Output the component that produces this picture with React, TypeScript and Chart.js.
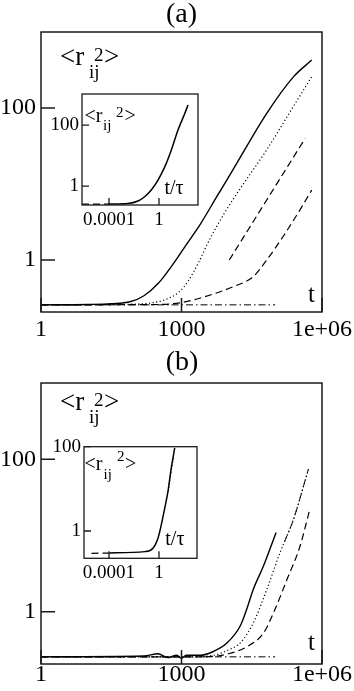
import React, { useEffect, useRef } from 'react';
import { Chart, registerables } from 'chart.js';
Chart.register(...registerables);

const FONT = '"Liberation Serif", "Times New Roman", serif';

// ---- tick values and labels ----
const mainXTicks = [1, 1000, 1000000];
const mainXLabels = ['1', '1000', '1e+06'];
const mainYTicks = [1, 100];
const mainYLabels = ['1', '100'];
const insetXTicks = [0.0001, 1];
const insetXLabels = ['0.0001', '1'];
const insetYTicks = [1, 100];
const insetYLabels = ['1', '100'];

// ---- panel (a) main ----
const aSolidT = [1, 10, 31.6, 79.4, 158, 316, 631, 1259, 2512, 5623, 12882, 66069, 245471, 602560];
const aSolidR = [0.257, 0.26, 0.266, 0.282, 0.339, 0.49, 0.851, 1.585, 2.95, 6.76, 15.8, 85.1, 257, 427];
const aDotT = [1, 100, 251, 501, 891, 1413, 2239, 3981, 7943, 15849, 66069, 245471, 602560];
const aDotR = [0.257, 0.263, 0.275, 0.309, 0.38, 0.537, 0.891, 1.86, 3.98, 7.76, 28.2, 105, 257];
const aDashUpT = [10471, 436516];
const aDashUpR = [1.0, 39.8];
const aDashLowT = [1, 316, 1000, 2512, 12882, 33884, 66069, 147911, 338844, 602560];
const aDashLowR = [0.257, 0.26, 0.275, 0.316, 0.447, 0.603, 1.0, 2.04, 4.57, 8.32];
const aDashDotT = [1, 100000];
const aDashDotR = [0.257, 0.257];

// ---- panel (a) inset ----
const iaDashT = [6.9e-7, 0.0001];
const iaDashR = [0.257, 0.257];
const iaSolidT = [0.000083, 0.0033, 0.0209, 0.0708, 0.24, 0.83, 2.88, 9.55, 33.1, 115, 209];
const iaSolidR = [0.257, 0.269, 0.324, 0.447, 0.741, 1.58, 4.27, 15.1, 69.2, 240, 457];

// ---- panel (b) main ----
const bSolidT = [1, 158, 316, 501, 794, 1000, 1259, 2512, 4786, 9333, 17783, 24547, 33884, 56234, 104713];
const bSolidR = [0.257, 0.263, 0.282, 0.251, 0.269, 0.245, 0.269, 0.269, 0.302, 0.389, 0.646, 1.07, 1.95, 3.98, 11.0];
const bDotT = [1, 1585, 4786, 10000, 17783, 33884, 66069, 125893, 245471, 512861];
const bDotR = [0.257, 0.257, 0.269, 0.316, 0.389, 0.708, 1.95, 5.89, 16.2, 74.1];
const bDashT = [1, 3162, 10000, 24547, 56234, 91201, 177828, 338844, 537032];
const bDashR = [0.257, 0.257, 0.282, 0.347, 0.525, 0.955, 2.63, 7.24, 20.9];
const bDashDotT = [1, 100000];
const bDashDotR = [0.257, 0.257];
const bDashDotUpT = [158489, 245471, 512861];
const bDashDotUpR = [8.32, 16.2, 74.1];

// ---- panel (b) inset ----
const ibDashT = [0.000004, 0.0001];
const ibDashR = [0.295, 0.3];
const ibSolidT = [0.0001, 0.0724, 0.331, 0.832, 1.51, 2.88, 5.25, 9.55, 18.2];
const ibSolidR = [0.302, 0.324, 0.389, 0.676, 1.38, 3.47, 8.71, 30.9, 93.3];
const ibDotT = [5.6, 10.5, 15.8];
const ibDotR = [8.7, 30.9, 60];

const SOLID: number[] = [];
const DOT = [1.2, 2.4];
const DASH = [7, 4];
const DASHDOT = [7, 3, 1.5, 3];

function ds(t: number[], r: number[], dash: number[], width: number) {
  return {
    data: t.map((x, i) => ({ x, y: r[i] })),
    borderColor: '#000',
    borderWidth: width,
    borderDash: dash,
    pointRadius: 0,
    fill: false,
    cubicInterpolationMode: 'monotone',
    borderCapStyle: 'butt',
  };
}

function framePlugin(tickLen: number, lw: number, white: boolean) {
  return {
    id: 'frame',
    beforeDraw(chart: any) {
      if (!white) return;
      const { ctx, chartArea: a } = chart;
      ctx.save();
      ctx.fillStyle = '#fff';
      ctx.fillRect(a.left, a.top, a.right - a.left, a.bottom - a.top);
      ctx.restore();
    },
    afterDraw(chart: any) {
      const { ctx, chartArea: a, scales } = chart;
      ctx.save();
      ctx.strokeStyle = '#1a1a1a';
      ctx.lineWidth = lw;
      ctx.strokeRect(a.left, a.top, a.right - a.left, a.bottom - a.top);
      ctx.beginPath();
      scales.x.ticks.forEach((t: any) => {
        const px = scales.x.getPixelForValue(t.value);
        ctx.moveTo(px, a.bottom);
        ctx.lineTo(px, a.bottom - tickLen);
      });
      scales.y.ticks.forEach((t: any) => {
        const py = scales.y.getPixelForValue(t.value);
        ctx.moveTo(a.left, py);
        ctx.lineTo(a.left + tickLen, py);
      });
      ctx.stroke();
      ctx.restore();
    },
  };
}

interface Cfg {
  datasets: any[];
  xMin: number; xMax: number; yMin: number; yMax: number;
  xTicks: number[]; xLabels: string[]; yTicks: number[]; yLabels: string[];
  padding: { left: number; right: number; top: number; bottom: number };
  yWidth: number; xHeight: number;
  fontSize: number; xPad: number; yPad: number;
  tickLen: number; frameW: number; white: boolean;
}

function buildConfig(c: Cfg): any {
  const font = { family: FONT, size: c.fontSize, lineHeight: 1 };
  return {
    type: 'line',
    data: { datasets: c.datasets },
    options: {
      responsive: false,
      animation: false,
      events: [],
      layout: { autoPadding: false, padding: c.padding },
      plugins: { legend: { display: false }, tooltip: { enabled: false }, title: { display: false } },
      scales: {
        x: {
          type: 'logarithmic', position: 'bottom', min: c.xMin, max: c.xMax,
          grid: { display: false, drawTicks: false }, border: { display: false },
          afterBuildTicks: (s: any) => { s.ticks = c.xTicks.map((v) => ({ value: v })); },
          afterFit: (s: any) => { s.height = c.xHeight; s.paddingLeft = 0; s.paddingRight = 0; },
          ticks: {
            autoSkip: false, maxRotation: 0, minRotation: 0, padding: c.xPad, color: '#000', font,
            callback: (v: any) => { const i = c.xTicks.indexOf(Number(v)); return i >= 0 ? c.xLabels[i] : ''; },
          },
        },
        y: {
          type: 'logarithmic', position: 'left', min: c.yMin, max: c.yMax,
          grid: { display: false, drawTicks: false }, border: { display: false },
          afterBuildTicks: (s: any) => { s.ticks = c.yTicks.map((v) => ({ value: v })); },
          afterFit: (s: any) => { s.width = c.yWidth; s.paddingTop = 0; s.paddingBottom = 0; },
          ticks: {
            autoSkip: false, padding: c.yPad, color: '#000', font,
            callback: (v: any) => { const i = c.yTicks.indexOf(Number(v)); return i >= 0 ? c.yLabels[i] : ''; },
          },
        },
      },
    },
    plugins: [framePlugin(c.tickLen, c.frameW, c.white)],
  };
}

function ChartCanvas(props: { left: number; top: number; width: number; height: number; cfg: () => Cfg }) {
  const ref = useRef<HTMLCanvasElement | null>(null);
  useEffect(() => {
    const chart = new Chart(ref.current as HTMLCanvasElement, buildConfig(props.cfg()));
    return () => chart.destroy();
  }, []);
  return (
    <canvas
      ref={ref}
      width={props.width}
      height={props.height}
      style={{ position: 'absolute', left: props.left, top: props.top, width: props.width, height: props.height }}
    />
  );
}

function T(props: { x: number; y: number; size: number; center?: boolean; children: React.ReactNode }) {
  return (
    <div
      style={{
        position: 'absolute', left: props.x, top: props.y - 0.3375 * props.size,
        fontFamily: FONT, fontSize: props.size, lineHeight: 0, whiteSpace: 'nowrap', color: '#000',
        transform: props.center ? 'translateX(-50%)' : undefined,
      }}
    >
      {props.children}
    </div>
  );
}

function RLabel(props: {
  x: number; y: number; big: number; small: number;
  ijDx: number; ijDy: number; twoDx: number; twoDy: number; gtDx: number;
}) {
  const { x, y, big, small } = props;
  return (
    <>
      <T x={x} y={y} size={big}>{'<r'}</T>
      <T x={x + props.ijDx} y={y + props.ijDy} size={small}>ij</T>
      <T x={x + props.twoDx} y={y + props.twoDy} size={small}>2</T>
      <T x={x + props.gtDx} y={y} size={big}>{'>'}</T>
    </>
  );
}

const mainA = (): Cfg => ({
  datasets: [
    ds(aDashDotT, aDashDotR, DASHDOT, 1),
    ds(aDashLowT, aDashLowR, DASH, 1.2),
    ds(aDashUpT, aDashUpR, DASH, 1.2),
    ds(aDotT, aDotR, DOT, 1.2),
    ds(aSolidT, aSolidR, SOLID, 1.4),
  ],
  xMin: 1, xMax: 1000000, yMin: 0.207, yMax: 1000,
  xTicks: mainXTicks, xLabels: mainXLabels, yTicks: mainYTicks, yLabels: mainYLabels,
  padding: { left: 0, right: 32, top: 32, bottom: 0 },
  yWidth: 41, xHeight: 33, fontSize: 24, xPad: 6, yPad: 5, tickLen: 14, frameW: 1.5, white: false,
});

const mainB = (): Cfg => ({
  datasets: [
    ds(bDashDotT, bDashDotR, DASHDOT, 1),
    ds(bDashT, bDashR, DASH, 1.2),
    ds(bDotT, bDotR, DOT, 1.2),
    ds(bDashDotUpT, bDashDotUpR, DASHDOT, 1),
    ds(bSolidT, bSolidR, SOLID, 1.4),
  ],
  xMin: 1, xMax: 1000000, yMin: 0.207, yMax: 1000,
  xTicks: mainXTicks, xLabels: mainXLabels, yTicks: mainYTicks, yLabels: mainYLabels,
  padding: { left: 0, right: 32, top: 38, bottom: 0 },
  yWidth: 41, xHeight: 27, fontSize: 24, xPad: -1, yPad: 5, tickLen: 14, frameW: 1.5, white: false,
});

const insetA = (): Cfg => ({
  datasets: [
    ds(iaDashT, iaDashR, DASH, 1.2),
    ds(iaSolidT, iaSolidR, SOLID, 1.5),
  ],
  xMin: 6.9e-7, xMax: 1318, yMin: 0.24, yMax: 1050,
  xTicks: insetXTicks, xLabels: insetXLabels, yTicks: insetYTicks, yLabels: insetYLabels,
  padding: { left: 0, right: 7, top: 9, bottom: 0 },
  yWidth: 52, xHeight: 30, fontSize: 19, xPad: 5.5, yPad: 3, tickLen: 7, frameW: 1.3, white: true,
});

const insetB = (): Cfg => ({
  datasets: [
    ds(ibDashT, ibDashR, DASH, 1.2),
    ds(ibDotT, ibDotR, DOT, 1),
    ds(ibSolidT, ibSolidR, SOLID, 1.5),
  ],
  xMin: 1e-6, xMax: 1100, yMin: 0.225, yMax: 100,
  xTicks: insetXTicks, xLabels: insetXLabels, yTicks: insetYTicks, yLabels: insetYLabels,
  padding: { left: 0, right: 8, top: 11.7, bottom: 0 },
  yWidth: 54, xHeight: 26.7, fontSize: 19, xPad: 5.5, yPad: 3, tickLen: 7, frameW: 1.3, white: true,
});

export default function App() {
  return (
    <div style={{ position: 'absolute', left: 0, top: 0, width: 354, height: 691, background: '#fff', overflow: 'hidden' }}>
      <ChartCanvas left={0} top={0} width={354} height={345} cfg={mainA} />
      <ChartCanvas left={0} top={345} width={354} height={346} cfg={mainB} />
      <ChartCanvas left={30} top={85} width={175} height={150} cfg={insetA} />
      <ChartCanvas left={30} top={435} width={175} height={150} cfg={insetB} />

      <T x={181.5} y={22.5} size={28} center>(a)</T>
      <T x={182} y={370.5} size={28} center>(b)</T>

      <RLabel x={60} y={65} big={27} small={19} ijDx={29} ijDy={13} twoDx={34} twoDy={-4} gtDx={44} />
      <RLabel x={60} y={410} big={27} small={19} ijDx={29} ijDy={13} twoDx={34} twoDy={-4} gtDx={44} />
      <RLabel x={84.5} y={121.7} big={20} small={15} ijDx={18.5} ijDy={8} twoDx={31.5} twoDy={-5} gtDx={40} />
      <RLabel x={84.5} y={470} big={20} small={15} ijDx={19} ijDy={9} twoDx={32.5} twoDy={-9} gtDx={40.5} />

      <T x={308} y={302} size={25}>t</T>
      <T x={308} y={650} size={25}>t</T>
      <T x={164.5} y={193.3} size={20}>t/τ</T>
      <T x={165.3} y={545} size={20}>t/τ</T>
    </div>
  );
}
